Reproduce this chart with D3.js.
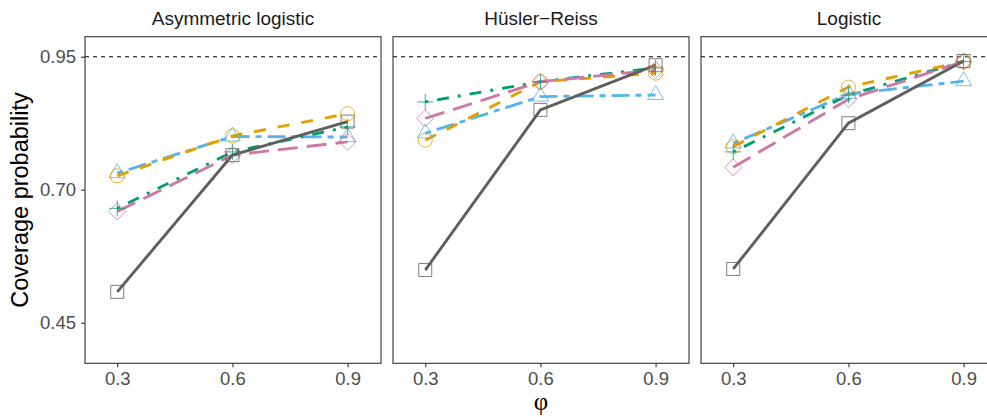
<!DOCTYPE html>
<html>
<head>
<meta charset="utf-8">
<script src="https://cdn.jsdelivr.net/npm/d3@7"></script>
<style>
  html, body { margin: 0; padding: 0; background: #fff; }
  svg { display: block; font-family: "Liberation Sans", Arial, sans-serif; }
</style>
</head>
<body>
<div id="chart"></div>
<script>
// ---------- data ----------
const phi = [0.3, 0.6, 0.9];
const panels = ["Asymmetric logistic", "H\u00fcsler\u2212Reiss", "Logistic"];
const yTicks = [0.45, 0.70, 0.95];
const xTicks = [0.3, 0.6, 0.9];
const nominal = 0.95;

// one array per method, one row per panel
const greySquare   = [[0.508, 0.765, 0.828], [0.549, 0.850, 0.934], [0.551, 0.825, 0.942]];
const orangeCircle = [[0.726, 0.801, 0.843], [0.793, 0.903, 0.919], [0.781, 0.893, 0.941]];
const blueTriangle = [[0.731, 0.800, 0.799], [0.806, 0.875, 0.878], [0.787, 0.880, 0.904]];
const greenPlus    = [[0.665, 0.771, 0.818], [0.865, 0.903, 0.929], [0.771, 0.878, 0.941]];
const pinkDiamond  = [[0.659, 0.765, 0.790], [0.834, 0.903, 0.925], [0.742, 0.870, 0.941]];

const series = [
  { values: blueTriangle, color: "#56B4E9", dash: "6,6,18,6",  shape: "triangle" },
  { values: greenPlus,    color: "#009E73", dash: "3,9,12,9",  shape: "plus" },
  { values: orangeCircle, color: "#E69F00", dash: "12,12",     shape: "circle" },
  { values: pinkDiamond,  color: "#CC79A7", dash: "20,9",      shape: "diamond" },
  { values: greySquare,   color: "#5F5F5F", dash: null,        shape: "square" }
];

// ---------- layout ----------
const W = 987, H = 417;
const panelW = 296, panelTop = 36.7, panelBottom = 363.3;
const panelLeft = [85, 393, 701];

const svg = d3.select("#chart").append("svg")
  .attr("width", W).attr("height", H);

const x = d3.scaleLinear().domain([0.216, 0.987]).range([0, panelW]);
const y = d3.scaleLinear().domain([0.3737, 0.9876]).range([panelBottom, panelTop]);

function markerPath(shape) {
  switch (shape) {
    case "square":   return "M-6.5,-6.5H6.5V6.5H-6.5Z";
    case "circle":   return d3.arc()({ innerRadius: 0, outerRadius: 7, startAngle: 0, endAngle: 2 * Math.PI });
    case "triangle": return "M0,-9.5L8,4.5L-8,4.5Z";
    case "diamond":  return "M0,-8.5L8.5,0L0,8.5L-8.5,0Z";
    case "plus":     return "M-8,0H8M0,-8V8";
  }
}

// clip
svg.append("defs").selectAll("clipPath")
  .data(panelLeft).enter().append("clipPath")
  .attr("id", (d, i) => "clip" + i)
  .append("rect")
  .attr("x", 0).attr("y", panelTop).attr("width", panelW).attr("height", panelBottom - panelTop);

panels.forEach((title, p) => {
  const g = svg.append("g").attr("transform", `translate(${panelLeft[p]},0)`);

  // strip title
  g.append("text")
    .attr("x", panelW / 2).attr("y", 25)
    .attr("text-anchor", "middle")
    .attr("font-size", 19).attr("fill", "#1a1a1a")
    .text(title);

  const inner = g.append("g").attr("clip-path", `url(#clip${p})`);

  // nominal level
  inner.append("line")
    .attr("x1", 0).attr("x2", panelW)
    .attr("y1", y(nominal)).attr("y2", y(nominal))
    .attr("stroke", "#000").attr("stroke-width", 1.1)
    .attr("stroke-dasharray", "4,4");

  const line = d3.line().x((d, i) => x(phi[i])).y(d => y(d));

  series.forEach(s => {
    inner.append("path")
      .attr("d", line(s.values[p]))
      .attr("fill", "none")
      .attr("stroke", s.color)
      .attr("stroke-width", 2.9)
      .attr("stroke-dasharray", s.dash);
  });

  series.forEach(s => {
    inner.selectAll(null)
      .data(s.values[p])
      .enter().append("path")
      .attr("transform", (d, i) => `translate(${x(phi[i])},${y(d)})`)
      .attr("d", markerPath(s.shape))
      .attr("fill", "none")
      .attr("stroke", s.color)
      .attr("stroke-opacity", 0.8)
      .attr("stroke-width", 1);
  });

  // border
  g.append("rect")
    .attr("x", 0).attr("y", panelTop)
    .attr("width", panelW).attr("height", panelBottom - panelTop)
    .attr("fill", "none").attr("stroke", "#333").attr("stroke-width", 1.1);

  // x axis
  const xa = g.append("g").attr("transform", `translate(0,${panelBottom})`)
    .call(d3.axisBottom(x).tickValues(xTicks).tickFormat(d3.format(".1f")).tickSize(4).tickPadding(5));
  xa.select(".domain").remove();
  xa.selectAll("line").attr("stroke", "#333").attr("stroke-width", 1.1);
  xa.selectAll("text").attr("font-size", 18.5).attr("fill", "#4D4D4D")
    .attr("font-family", "Liberation Sans, Arial, sans-serif");

  if (p === 0) {
    const ya = g.append("g")
      .call(d3.axisLeft(y).tickValues(yTicks).tickFormat(d3.format(".2f")).tickSize(4).tickPadding(5));
    ya.select(".domain").remove();
    ya.selectAll("line").attr("stroke", "#333").attr("stroke-width", 1.1);
    ya.selectAll("text").attr("font-size", 18.5).attr("fill", "#4D4D4D")
      .attr("font-family", "Liberation Sans, Arial, sans-serif");
  }
});

// axis titles
svg.append("text")
  .attr("transform", `translate(28,${(panelTop + panelBottom) / 2}) rotate(-90)`)
  .attr("text-anchor", "middle")
  .attr("font-size", 23.5).attr("fill", "#000")
  .text("Coverage probability");

svg.append("text")
  .attr("x", 541).attr("y", 410)
  .attr("text-anchor", "middle")
  .attr("font-size", 25)
  .attr("font-family", "Liberation Serif, serif")
  .attr("fill", "#000")
  .text("\u03c6");
</script>
</body>
</html>
